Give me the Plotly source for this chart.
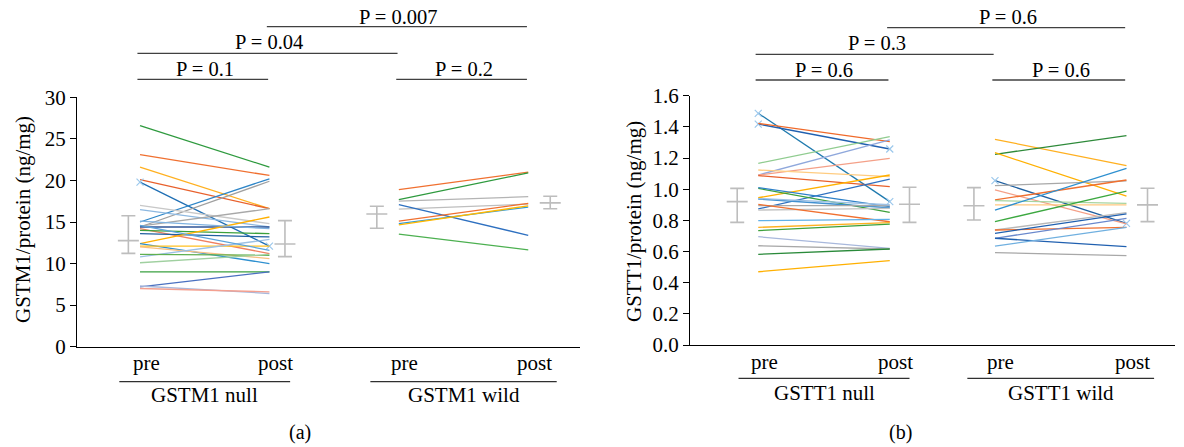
import plotly.graph_objects as go

W, H = 1184, 447
FONT = "Liberation Serif"

# ---------------- data ----------------
# Panel (a) GSTM1
a_null_pre  = [26.6, 23.1, 21.6, 20.1, 19.8, 15.0, 14.4, 17.0, 16.5, 14.5, 14.4, 14.2, 14.0, 13.6,
               12.4, 12.4, 12.1, 12.0, 10.8, 11.1, 10.1, 9.0, 7.2, 7.3, 7.0, 14.6, 15.1]
a_null_post = [21.6, 20.6, 16.6, 16.6, 12.1, 20.2, 19.9, 14.8, 14.4, 16.6, 14.4, 11.2, 13.6, 13.2,
               15.6, 10.0, 12.1, 10.6, 12.9, 11.0, 11.1, 9.0, 9.0, 6.4, 6.6, 11.6, 14.2]
a_null_col  = ["#2E9A3E", "#F07030", "#FFB020", "#E8602C", "#1F6FB4", "#2E86C8", "#A0A0A0",
               "#C8C8C8", "#8DB8E0", "#A8A8A8", "#2F5597", "#F08060", "#3CA03C", "#2060A0",
               "#FFB000", "#2E90D0", "#FFC020", "#F8C080", "#9CC0E4", "#60B050", "#A0D0A0",
               "#3AA040", "#4A70C0", "#A8B8DC", "#F4A090", "#5BA3DC", "#7FB2E0"]
a_wild_pre  = [18.9, 17.7, 17.5, 16.55, 17.1, 15.1, 14.8, 14.65, 13.55]
a_wild_post = [21.0, 20.9, 18.05, 17.15, 13.4, 17.25, 16.8, 16.95, 11.65]
a_wild_col  = ["#F07030", "#2E9A3E", "#B4B4B4", "#BEBEBE", "#2E70C0", "#F07030", "#2E9AD8",
               "#FFB800", "#4CB050"]
# error bars: mean, low, high (pre null, post null, pre wild, post wild)
a_eb_mean = [12.76, 12.35, 15.96, 17.3]
a_eb_low  = [11.23, 10.83, 14.24, 16.6]
a_eb_high = [15.76, 15.16, 16.9, 18.1]

# Panel (b) GSTT1
b_null_pre  = [1.487, 1.418, 1.422, 1.166, 1.091, 1.091, 1.123, 1.087, 0.945, 0.873, 1.005, 1.01,
               0.937, 0.894, 0.866, 0.903, 0.798, 0.755, 0.734, 0.695, 0.637, 0.582, 0.47, 0.94]
b_null_post = [0.92, 1.258, 1.305, 1.337, 1.316, 1.198, 1.08, 1.016, 1.091, 1.065, 0.851, 0.888,
               0.881, 0.894, 0.877, 0.791, 0.806, 0.785, 0.776, 0.62, 0.616, 0.616, 0.541, 0.90]
b_null_col  = ["#1F7AAE", "#2060B0", "#F06A2A", "#90CC90", "#8FA8DC", "#F4A088", "#FFCC80",
               "#E8602C", "#FFB000", "#2E70C0", "#3CA03C", "#2E80C8", "#4090D0", "#A8A8A8",
               "#C4C4C4", "#F07030", "#60B0E8", "#FFB020", "#3CA03C", "#A8B8DC", "#A8A8A8",
               "#2A8A3A", "#FFB000", "#9CC0E4"]
b_wild_pre  = [1.32, 1.224, 1.234, 1.055, 1.023, 0.995, 0.931, 0.926, 0.899, 0.866, 0.792, 0.738,
               0.738, 0.717, 0.685, 0.685, 0.635, 0.593]
b_wild_post = [1.151, 1.344, 0.956, 0.781, 1.053, 0.777, 1.059, 0.909, 0.899, 1.134, 0.988, 0.849,
               0.755, 0.841, 0.813, 0.631, 0.755, 0.573]
b_wild_col  = ["#FFB020", "#2E8A3A", "#FFB000", "#2060A0", "#A8A8A8", "#F4A088", "#F07030",
               "#A8D4A0", "#FFC880", "#2E90D0", "#3CA840", "#B8B8B8", "#F07030", "#2060B0",
               "#6A88CC", "#2060B0", "#70B0E0", "#A8A8A8"]
b_eb_mean = [0.92, 0.903, 0.894, 0.899]
b_eb_low  = [0.787, 0.787, 0.802, 0.792]
b_eb_high = [1.005, 1.012, 1.01, 1.006]

# lines carrying small x markers at their ends (index into the null/wild lists)
a_null_marked = [4]
b_null_marked = [0, 1]
b_wild_marked = [3]

x_labels = ["pre", "post", "pre", "post"]
a_groups = ["GSTM1 null", "GSTM1 wild"]
b_groups = ["GSTT1 null", "GSTT1 wild"]
a_title = "GSTM1/protein (ng/mg)"
b_title = "GSTT1/protein (ng/mg)"
a_ticks = [0, 5, 10, 15, 20, 25, 30]
b_ticks = [0.0, 0.2, 0.4, 0.6, 0.8, 1.0, 1.2, 1.4, 1.6]
# significance: (from index, to index, level, text)
a_sig = [(0, 1, 0, "P = 0.1"), (2, 3, 0, "P = 0.2"), (0, 2, 1, "P = 0.04"), (1, 3, 2, "P = 0.007")]
b_sig = [(0, 1, 0, "P = 0.6"), (2, 3, 0, "P = 0.6"), (0, 2, 1, "P = 0.3"), (1, 3, 2, "P = 0.6")]

# ---------------- layout constants ----------------
a_pos = [1.0, 2.0, 3.0, 4.0]
b_pos = [1.0, 2.0, 2.8, 3.8]
a_eb_off = [-0.09, 0.12, -0.17, 0.17]
b_eb_off = [-0.16, 0.15, -0.16, 0.16]
EB_COL = "#BDBDBD"


def py(p):
    return 1 - p / H


fig = go.Figure()


def add_panel(xa, ya, pos, null_pre, null_post, null_col, wild_pre, wild_post, wild_col,
              eb_mean, eb_low, eb_high, eb_off, null_marked, wild_marked):
    groups = [(null_pre, null_post, null_col, 0, null_marked),
              (wild_pre, wild_post, wild_col, 2, wild_marked)]
    for pre, post, col, gi, marked in groups:
        for i, (a, b) in enumerate(zip(pre, post)):
            fig.add_trace(go.Scatter(
                x=[pos[gi], pos[gi + 1]], y=[a, b], mode="lines+markers" if i in marked else "lines",
                line=dict(color=col[i], width=1.3),
                marker=dict(symbol="x-thin", size=7, line=dict(color="#9CC8EC", width=1.2)),
                xaxis=xa, yaxis=ya, showlegend=False, hoverinfo="skip"))
    for k in range(4):
        fig.add_trace(go.Scatter(
            x=[pos[k] + eb_off[k]], y=[eb_mean[k]], mode="markers",
            marker=dict(symbol="line-ew", size=15, line=dict(color=EB_COL, width=1.6)),
            error_y=dict(type="data", symmetric=False, array=[eb_high[k] - eb_mean[k]],
                         arrayminus=[eb_mean[k] - eb_low[k]], color=EB_COL, thickness=1.6, width=7),
            xaxis=xa, yaxis=ya, showlegend=False, hoverinfo="skip"))


add_panel("x", "y", a_pos, a_null_pre, a_null_post, a_null_col, a_wild_pre, a_wild_post, a_wild_col,
          a_eb_mean, a_eb_low, a_eb_high, a_eb_off, a_null_marked, [])
add_panel("x2", "y2", b_pos, b_null_pre, b_null_post, b_null_col, b_wild_pre, b_wild_post, b_wild_col,
          b_eb_mean, b_eb_low, b_eb_high, b_eb_off, b_null_marked, b_wild_marked)

axis_common = dict(showgrid=False, zeroline=False, showline=True, linecolor="black", linewidth=1.3,
                   automargin=False)
font = dict(family=FONT, size=21, color="black")

annotations = []
shapes = []


def decorate(xref, pos, groups, title, title_x, title_y, sig, sig_text_y, sig_bar_y,
             lab_y, uline_y, grp_y, half_w, panel_label, panel_x):
    for k in range(4):
        annotations.append(dict(x=pos[k], y=py(lab_y), xref=xref, yref="paper", text=x_labels[k],
                                showarrow=False, xshift=6, font=font, xanchor="center",
                                yanchor="middle"))
    for g in range(2):
        c = (pos[2 * g] + pos[2 * g + 1]) / 2
        annotations.append(dict(x=c, y=py(grp_y), xref=xref, yref="paper", text=groups[g],
                                showarrow=False, font=font, xanchor="center", yanchor="middle"))
        shapes.append(dict(type="line", xref=xref, yref="paper", x0=c - half_w[g], x1=c + half_w[g],
                           y0=py(uline_y), y1=py(uline_y), line=dict(color="#303030", width=1.3)))
    for i0, i1, lev, txt in sig:
        annotations.append(dict(x=(pos[i0] + pos[i1]) / 2, y=py(sig_text_y[lev]), xref=xref,
                                yref="paper", text=txt, showarrow=False, xanchor="center",
                                yanchor="middle", font=dict(family=FONT, size=20.5, color="black")))
        shapes.append(dict(type="line", xref=xref, yref="paper", x0=pos[i0] - 0.02, x1=pos[i1] - 0.01,
                           y0=py(sig_bar_y[lev]), y1=py(sig_bar_y[lev]),
                           line=dict(color="#404040", width=1.3)))
    annotations.append(dict(x=title_x / W, y=py(title_y), xref="paper", yref="paper", text=title,
                            textangle=-90, showarrow=False, font=font, xanchor="center",
                            yanchor="middle"))
    annotations.append(dict(x=panel_x / W, y=py(432), xref="paper", yref="paper", text=panel_label,
                            showarrow=False, xanchor="center", yanchor="middle",
                            font=dict(family=FONT, size=20, color="black")))


decorate("x", a_pos, a_groups, a_title, 23, 220, a_sig, [69, 41.7, 16.7], [79.3, 53.3, 26.7],
         363, 381.7, 395, [0.66, 0.72], "(a)", 300)
decorate("x2", b_pos, b_groups, b_title, 634, 222, b_sig, [70, 43, 17], [80, 54.3, 27.7],
         362, 378.3, 393, [0.65, 0.71], "(b)", 900)

fig.update_layout(
    template="none",
    width=W, height=H, margin=dict(l=0, r=0, t=0, b=0, pad=0, autoexpand=False),
    paper_bgcolor="white", plot_bgcolor="white",
    font=dict(family=FONT, size=21, color="black"),
    xaxis=dict(domain=[77 / W, 580 / W], range=[0.513, 4.40], showticklabels=False, ticks="",
               anchor="y", **axis_common),
    yaxis=dict(domain=[py(346.7), py(97.3)], range=[0, 30], tickvals=a_ticks, ticks="outside",
               ticklen=6, tickcolor="black", anchor="x", tickfont=dict(family=FONT, size=21),
               **axis_common),
    xaxis2=dict(domain=[690 / W, 1175 / W], range=[0.481, 4.169], showticklabels=False, ticks="",
                anchor="y2", **axis_common),
    yaxis2=dict(domain=[py(345), py(95.7)], range=[0, 1.6], tickvals=b_ticks, tickformat=".1f",
                ticks="outside", ticklen=6, tickcolor="black", anchor="x2",
                tickfont=dict(family=FONT, size=21), **axis_common),
    annotations=annotations, shapes=shapes,
)

fig.write_html(
    "out.html",
    config={"displayModeBar": False},
    post_script="document.body.style.margin='0';document.body.style.overflow='hidden';",
)
